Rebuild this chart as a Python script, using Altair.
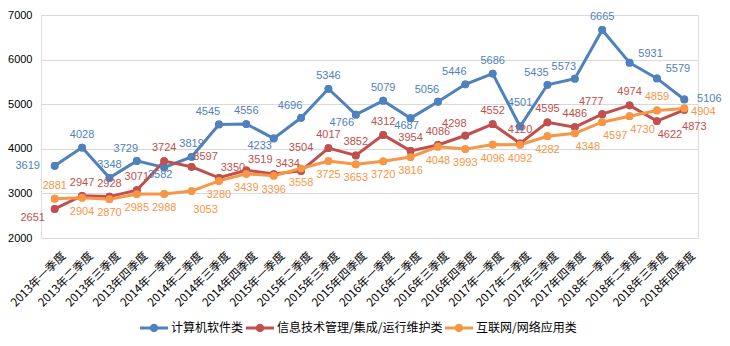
import altair as alt
import pandas as pd

years = ["2013", "2014", "2015", "2016", "2017", "2018"]
quarter_names = ["一", "二", "三", "四"]
quarters = [y + "年" + q + "季度" for y in years for q in quarter_names]

series_names = ["计算机软件类", "信息技术管理/集成/运行维护类", "互联网/网络应用类"]
colors = ["#4f81bd", "#c0504d", "#f79646"]

software = [3619, 4028, 3348, 3729, 3582, 3819, 4545, 4556, 4233, 4696, 5346, 4766,
            5079, 4687, 5056, 5446, 5686, 4501, 5435, 5573, 6665, 5931, 5579, 5106]
it_mgmt = [2651, 2947, 2928, 3071, 3724, 3597, 3350, 3519, 3434, 3504, 4017, 3852,
           4312, 3954, 4086, 4298, 4552, 4120, 4595, 4486, 4777, 4974, 4622, 4873]
internet = [2881, 2904, 2870, 2985, 2988, 3053, 3280, 3439, 3396, 3558, 3725, 3653,
            3720, 3816, 4048, 3993, 4096, 4092, 4282, 4348, 4597, 4730, 4859, 4904]

# label placement codes (style only)
software_pos = ["l", "t", "t", "tl", "bs", "t", "tl", "t", "bl", "tl", "t", "bl",
                "t", "bs", "tl", "tl", "t", "tt", "tl", "tl", "t", "trr", "trr", "r"]
it_mgmt_pos = ["bll", "t", "t", "t", "t", "tr", "tr", "tr", "tr", "tt", "t", "t",
               "t", "t", "t", "tl", "t", "t", "t", "t", "tl", "t", "br", "brr"]
internet_pos = ["t", "b", "b", "b", "b", "bbr", "b", "b", "b", "b", "b", "b",
                "b", "b", "b", "b", "b", "b", "b", "br", "br", "br", "t", "rb"]

offsets = {
    "t": (0, -13), "tt": (0, -23), "b": (0, 14), "bs": (-4, 8), "tl": (-11, -12),
    "tr": (14, -10), "trr": (21, -9), "bl": (-14, 8), "bll": (-22, 9),
    "br": (13, 14), "brr": (10, 17), "bbr": (14, 19), "l": (-27, 0), "r": (25, 0),
    "rb": (19, 4),
}

rows = []
for name, vals, poss in zip(series_names, [software, it_mgmt, internet],
                            [software_pos, it_mgmt_pos, internet_pos]):
    for q, v, p in zip(quarters, vals, poss):
        rows.append({"quarter": q, "series": name, "value": v, "pos": p})
df = pd.DataFrame(rows)

x_enc = alt.X("quarter:N", sort=quarters, title=None,
              scale=alt.Scale(type="point", padding=0.5),
              axis=alt.Axis(labelAngle=-45, labelAlign="right", labelBaseline="middle",
                            labelPadding=16, labelOffset=9, domain=False, ticks=False,
                            grid=False, labelFont="Noto Sans CJK SC", labelFontSize=11.5,
                            labelColor="#000000", labelLimit=200))
y_enc = alt.Y("value:Q", title=None,
              scale=alt.Scale(domain=[2000, 7000], nice=False, zero=False),
              axis=alt.Axis(values=[2000, 3000, 4000, 5000, 6000, 7000], format="d",
                            domain=False, ticks=False, gridColor="#d9d9d9", gridWidth=1,
                            labelPadding=9, labelFont="Liberation Sans", labelFontSize=11,
                            labelColor="#000000"))
color_scale = alt.Scale(domain=series_names, range=colors)

legend_symbol = ("M-1,-0.1 L1,-0.1 L1,0.1 L-1,0.1 Z "
                 "M-0.3,0 A0.3,0.3 0 1,1 0.3,0 A0.3,0.3 0 1,1 -0.3,0 Z")
legend = alt.Legend(title=None, orient="none", direction="horizontal",
                    legendX=99, legendY=299, padding=0,
                    symbolType=legend_symbol, symbolSize=784,
                    symbolStrokeWidth=0, symbolOpacity=1,
                    symbolFillColor=None if False else alt.Undefined,
                    labelFont="Noto Sans CJK SC", labelFontSize=12,
                    labelColor="#000000", labelOffset=3,
                    columnPadding=2, labelLimit=300)
color_enc = alt.Color("series:N", scale=color_scale, sort=series_names, legend=legend)

base = alt.Chart(df)

points = base.mark_circle(size=60, opacity=1).encode(x=x_enc, y=y_enc, color=color_enc)
lines = base.mark_line(strokeWidth=3).encode(x=x_enc, y=y_enc, color=color_enc,
                                            detail="series:N")

layers = [points, lines, points]
for code, (dx, dy) in offsets.items():
    layers.append(
        base.transform_filter(alt.FieldEqualPredicate(field="pos", equal=code))
        .mark_text(dx=dx, dy=dy, align="center", baseline="middle",
                   font="Liberation Sans", fontSize=11)
        .encode(x=x_enc, y=y_enc, text="value:Q", color=color_enc)
    )

chart = alt.layer(*layers).properties(
    width=657, height=223,
    padding={"left": 41, "top": 15, "right": 32, "bottom": 108},
    autosize=alt.AutoSizeParams(type="none"),
).configure_view(stroke=None).configure(background="#ffffff")

chart.save("out.html", embed_options={"renderer": "svg", "actions": False})
